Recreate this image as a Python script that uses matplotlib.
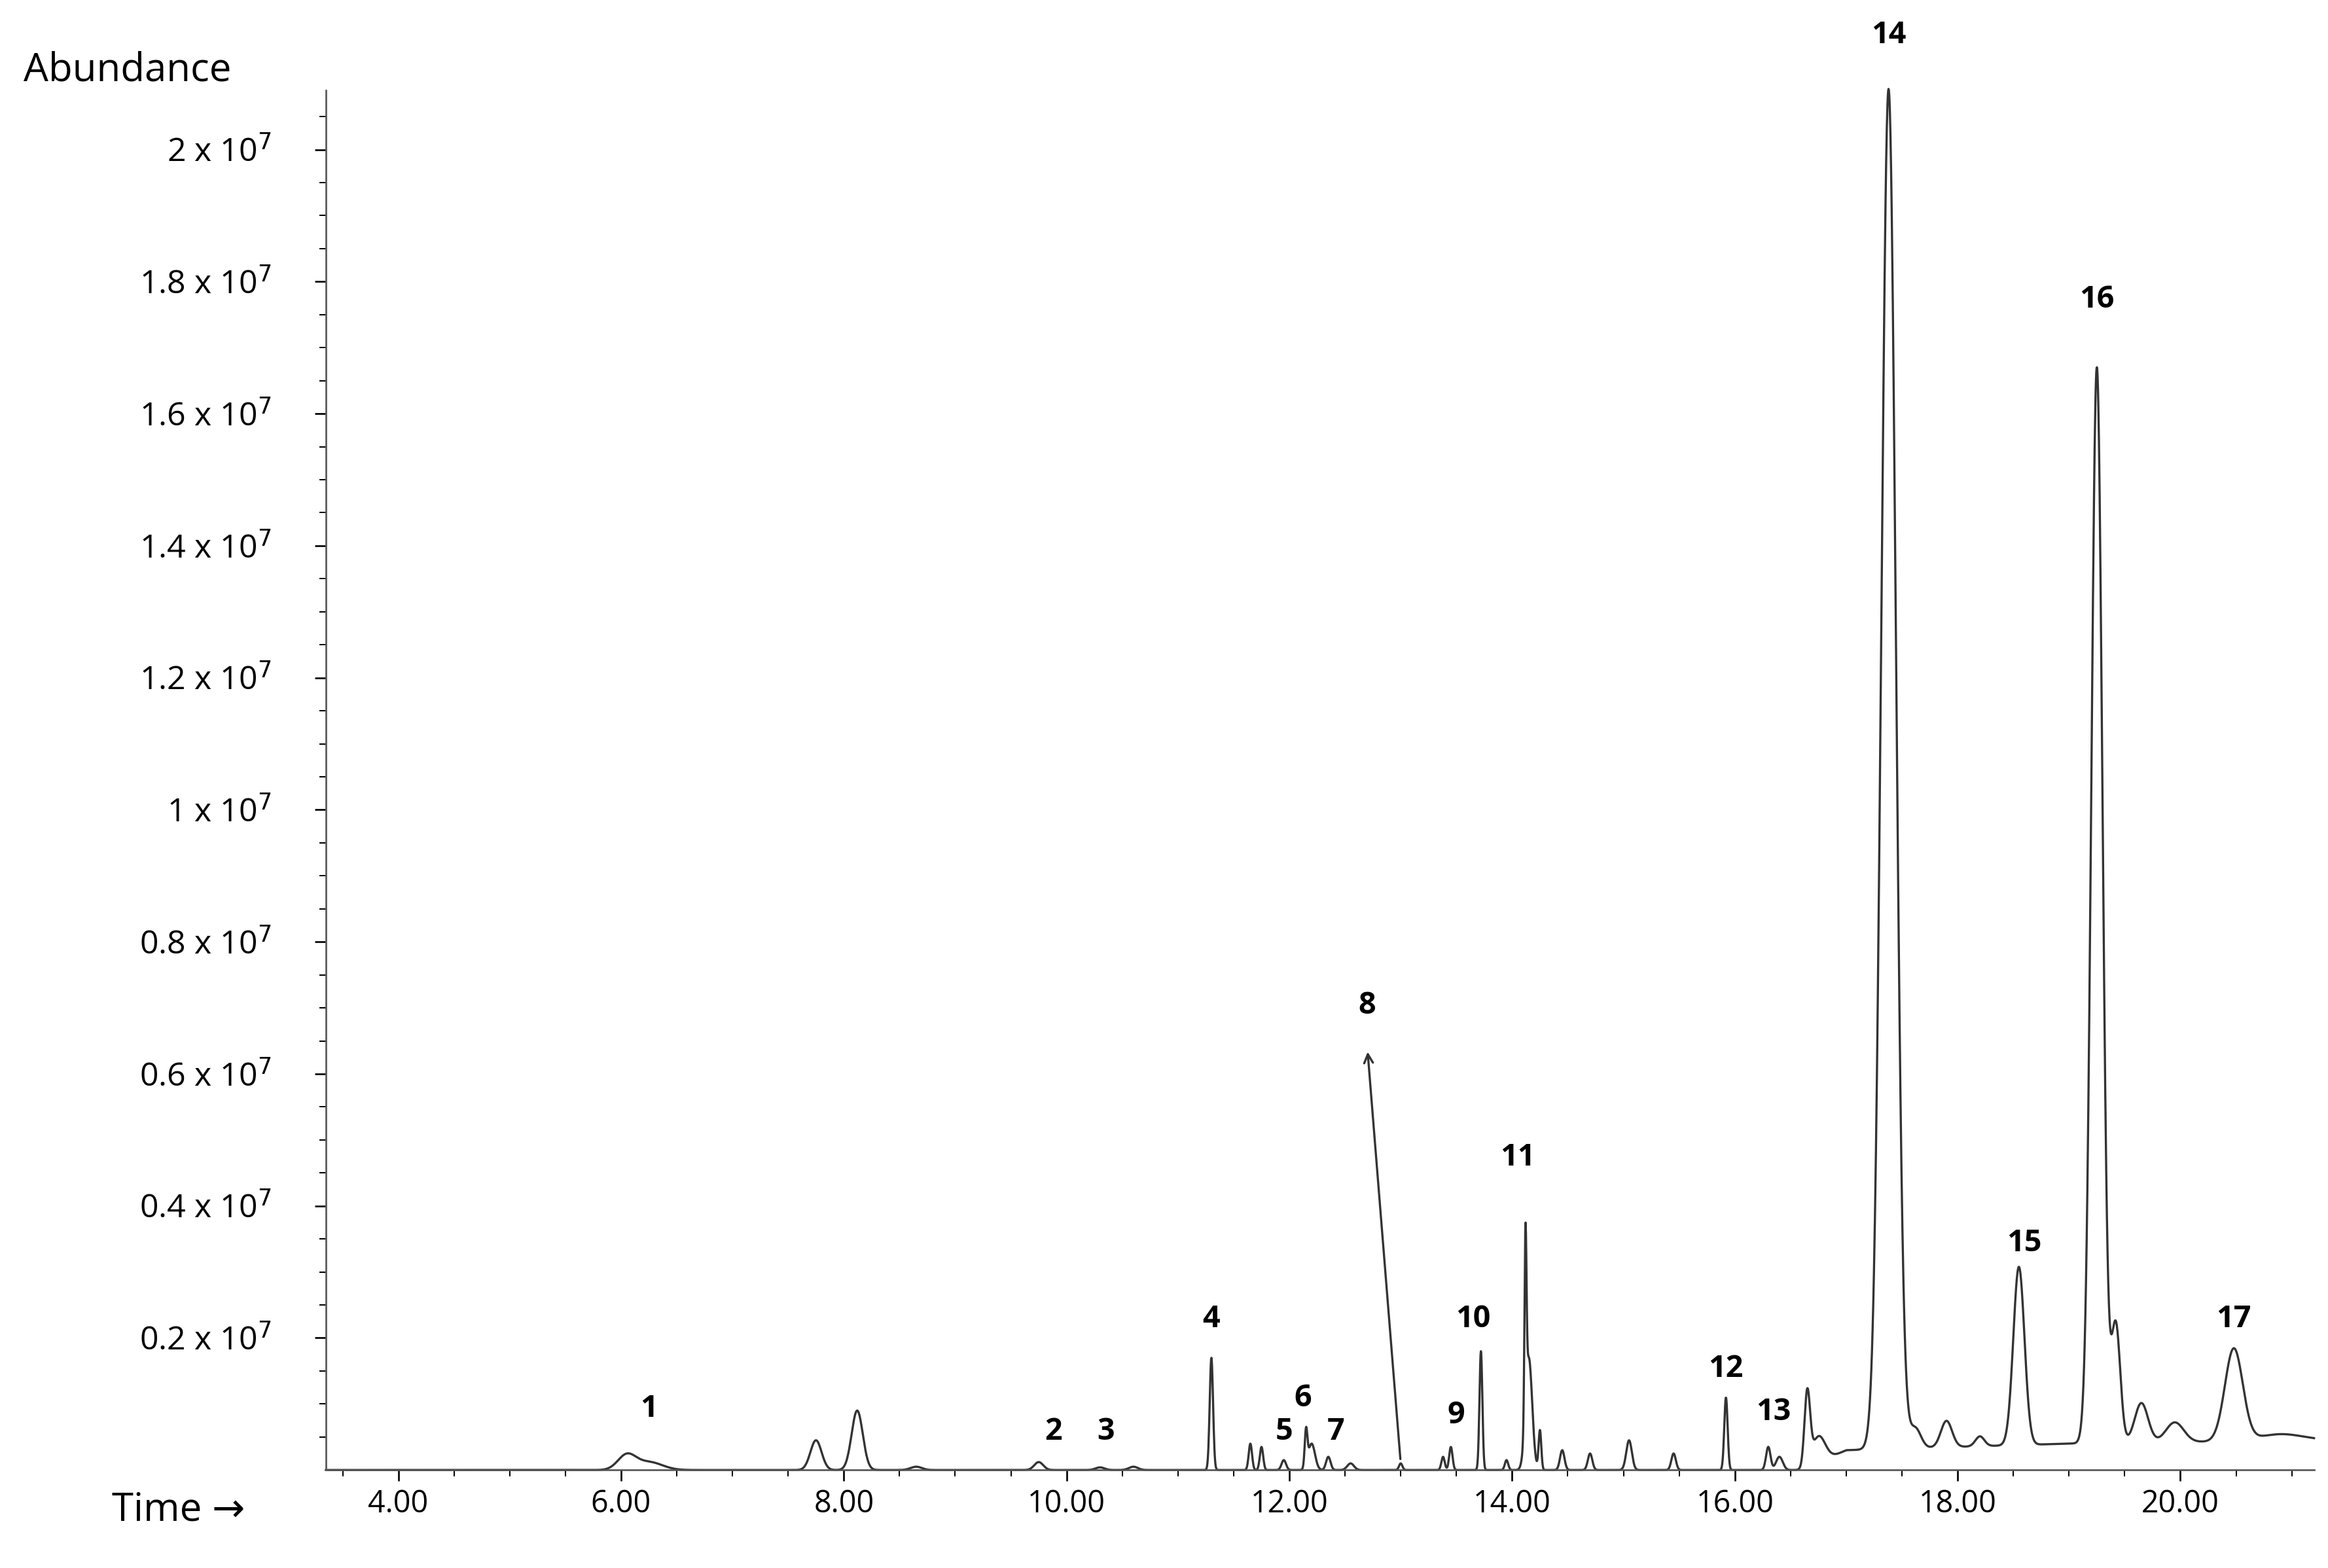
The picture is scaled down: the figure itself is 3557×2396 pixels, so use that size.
import numpy as np
import matplotlib
matplotlib.use("Agg")
import matplotlib.pyplot as plt

plt.rcParams['font.family'] = ['Open Sans', 'DejaVu Sans']

# Peak table (retention time [min], height [x1e7], sigma [min])
peak_rt = [6.05, 6.25, 7.75, 8.12, 8.65, 9.75, 10.3, 10.6, 11.3, 11.65, 11.75, 11.95, 12.15, 12.2, 12.35, 12.55,
           13.0, 13.38, 13.45, 13.72, 13.95, 14.12, 14.15, 14.25, 14.45, 14.7, 15.05, 15.45, 15.92, 16.3, 16.4,
           16.65, 16.75, 17.38, 17.62, 17.9, 18.2, 18.55, 19.25, 19.42, 19.65, 19.95, 20.48, 20.9]
peak_h = [0.022, 0.012, 0.045, 0.09, 0.005, 0.012, 0.004, 0.005, 0.17, 0.04, 0.035, 0.015, 0.055, 0.04, 0.02, 0.01,
          0.01, 0.02, 0.035, 0.18, 0.015, 0.27, 0.17, 0.06, 0.03, 0.025, 0.045, 0.025, 0.11, 0.035, 0.02,
          0.11, 0.04, 2.06, 0.03, 0.04, 0.015, 0.27, 1.63, 0.18, 0.06, 0.03, 0.14, 0.01]
peak_w = [0.08, 0.12, 0.05, 0.05, 0.05, 0.04, 0.04, 0.04, 0.015, 0.015, 0.015, 0.02, 0.012, 0.03, 0.02, 0.03,
          0.015, 0.015, 0.015, 0.013, 0.015, 0.009, 0.03, 0.012, 0.02, 0.02, 0.025, 0.02, 0.015, 0.02, 0.03,
          0.025, 0.06, 0.065, 0.05, 0.05, 0.04, 0.05, 0.05, 0.04, 0.06, 0.08, 0.08, 0.2]
# Rising baseline after ~16.8 min (x1e7)
base_t = [3.35, 16.6, 17.0, 18.0, 19.0, 21.2]
base_v = [0.0, 0.0, 0.03, 0.035, 0.04, 0.045]

labels = ['1', '2', '3', '4', '5', '6', '7', '8', '9', '10', '11', '12', '13', '14', '15', '16', '17']
label_x = [6.25, 9.88, 10.35, 11.3, 11.95, 12.12, 12.42, 12.7, 13.5, 13.65, 14.05, 15.92, 16.35, 17.38, 18.6, 19.25, 20.48]
label_y = [0.07, 0.035, 0.035, 0.205, 0.035, 0.085, 0.035, 0.68, 0.06, 0.205, 0.45, 0.13, 0.065, 2.15, 0.32, 1.75, 0.205]

t = np.linspace(3.35, 21.2, 6000)
sig = np.interp(t, base_t, base_v)
for r, h, w in zip(peak_rt, peak_h, peak_w):
    sig += h * np.exp(-0.5 * ((t - r) / w) ** 2)

fig = plt.figure(figsize=(3557/240, 2396/240), dpi=240)
ax = fig.add_axes([0.140, 0.0625, 0.854, 0.88])
ax.plot(t, sig, color='#333333', lw=1.0, clip_on=False)
ax.set_xlim(3.35, 21.2)
ax.set_ylim(0, 2.09)
for s in ['top', 'right']:
    ax.spines[s].set_visible(False)
ax.spines['left'].set_color('#555555')
ax.spines['bottom'].set_color('#555555')
ax.set_xticks(np.arange(4, 21, 2))
ax.set_xticklabels([f"{v:.2f}" for v in np.arange(4, 21, 2)], fontsize=14)
ax.set_xticks(np.arange(3.5, 21.2, 0.5), minor=True)
yt = [0.2, 0.4, 0.6, 0.8, 1.0, 1.2, 1.4, 1.6, 1.8, 2.0]
ylab = [r'0.2 x 10$^7$', r'0.4 x 10$^7$', r'0.6 x 10$^7$', r'0.8 x 10$^7$', r'1 x 10$^7$',
        r'1.2 x 10$^7$', r'1.4 x 10$^7$', r'1.6 x 10$^7$', r'1.8 x 10$^7$', r'2 x 10$^7$']
ax.set_yticks(yt)
ax.set_yticklabels(ylab, fontsize=15)
ax.set_yticks(np.arange(0.05, 2.09, 0.05), minor=True)
ax.tick_params(axis='y', which='major', length=5, pad=20)
ax.tick_params(axis='y', which='minor', length=3)
ax.tick_params(axis='x', which='major', length=5)
ax.tick_params(axis='x', which='minor', length=3)

for lb, x, y in zip(labels, label_x, label_y):
    ax.text(x, y, lb, ha='center', va='bottom', fontsize=14, fontweight='bold', clip_on=False)
ax.annotate('', xy=(12.7, 0.64), xytext=(13.0, 0.01),
            arrowprops=dict(arrowstyle='->', color='#333333', lw=1.0))

fig.text(0.01, 0.955, 'Abundance', fontsize=18, ha='left', va='center')
fig.text(0.048, 0.037, 'Time →', fontsize=18, ha='left', va='center')
fig.savefig('out.png', dpi=240, facecolor='white')
